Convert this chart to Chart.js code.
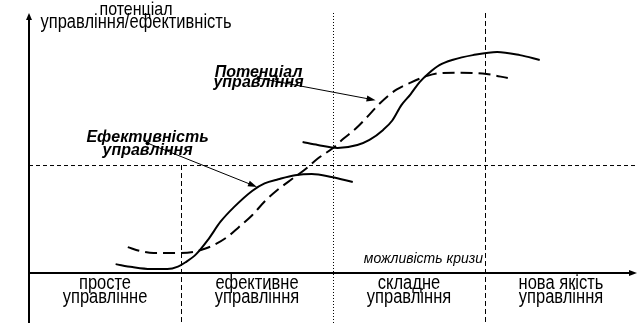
<!DOCTYPE html>
<html lang="uk">
<head>
<meta charset="UTF-8">
<title>Потенціал та ефективність управління</title>
<script src="https://cdn.jsdelivr.net/npm/chart.js"></script>
<style>
  html, body { margin: 0; padding: 0; background: #fff; }
  .wrap { width: 643px; height: 323px; position: relative; }
</style>
</head>
<body>
<div class="wrap"><canvas id="chart"></canvas></div>
<script>
// стадії розвитку управління (підписи під віссю X)
const stages = [['просте', 'управлінне'], ['ефективне', 'управління'], ['складне', 'управління'], ['нова якість', 'управління']];
const stageBounds = [1, 2, 3];
const axisTitle = ['потенціал', 'управління/ефективність'];
const crisisLabel = 'можливість кризи';
const thresholdLevel = 4;

// ефективність управління - перша S-крива
const effect1X = [0.57, 0.68, 0.80, 0.91, 0.98, 1.03, 1.10, 1.18, 1.26, 1.35, 1.47, 1.55, 1.64, 1.75, 1.86, 1.99, 2.13];
const effect1Y = [0.33, 0.22, 0.15, 0.15, 0.24, 0.40, 0.70, 1.25, 1.90, 2.45, 3.05, 3.32, 3.47, 3.62, 3.67, 3.56, 3.37];
// ефективність управління - друга S-крива
const effect2X = [1.80, 1.90, 2.03, 2.16, 2.24, 2.33, 2.39, 2.45, 2.51, 2.57, 2.63, 2.70, 2.79, 2.92, 3.08, 3.23, 3.36];
const effect2Y = [4.85, 4.74, 4.63, 4.74, 4.93, 5.30, 5.65, 6.22, 6.62, 7.07, 7.40, 7.70, 7.90, 8.07, 8.19, 8.07, 7.89];
// потенціал управління
const potentialX = [0.65, 0.73, 0.82, 0.91, 0.99, 1.08, 1.15, 1.21, 1.31, 1.38, 1.47, 1.55, 1.64, 1.73, 1.82, 1.90, 2.00, 2.07, 2.15, 2.22, 2.29, 2.36, 2.42, 2.51, 2.62, 2.70, 2.84, 3.01, 3.15];
const potentialY = [0.96, 0.82, 0.74, 0.74, 0.74, 0.78, 0.89, 1.02, 1.36, 1.70, 2.15, 2.65, 3.10, 3.48, 3.85, 4.24, 4.63, 4.98, 5.35, 5.75, 6.18, 6.55, 6.80, 7.05, 7.30, 7.40, 7.42, 7.37, 7.22];

// підписи кривих: текст, точка підпису, точка на кривій
const curveLabels = [
  { lines: ['Ефективність', 'управління'], from: [0.78, 4.81], to: [1.50, 3.19] },
  { lines: ['Потенціал', 'управління'], from: [1.51, 7.22], to: [2.28, 6.40] }
];

const toPoints = (xs, ys) => xs.map((x, i) => ({ x: x, y: ys[i] }));

const FONT = '"Liberation Sans", Arial, sans-serif';

function drawText(ctx, text, x, y, font, align, sy) {
  ctx.save();
  ctx.translate(x, y);
  ctx.scale(1, sy || 1);
  ctx.font = font;
  ctx.textAlign = align || 'center';
  ctx.textBaseline = 'alphabetic';
  ctx.fillStyle = '#000';
  ctx.fillText(text, 0, 0);
  ctx.restore();
}

function drawArrow(ctx, x1, y1, x2, y2, len, half) {
  const a = Math.atan2(y2 - y1, x2 - x1);
  ctx.beginPath();
  ctx.moveTo(x1, y1);
  ctx.lineTo(x2 - Math.cos(a) * len * 0.6, y2 - Math.sin(a) * len * 0.6);
  ctx.stroke();
  ctx.beginPath();
  ctx.moveTo(x2, y2);
  ctx.lineTo(x2 - Math.cos(a) * len + Math.sin(a) * half, y2 - Math.sin(a) * len - Math.cos(a) * half);
  ctx.lineTo(x2 - Math.cos(a) * len - Math.sin(a) * half, y2 - Math.sin(a) * len + Math.cos(a) * half);
  ctx.closePath();
  ctx.fill();
}

const schemePlugin = {
  id: 'scheme',
  beforeDatasetsDraw(chart) {
    const ctx = chart.ctx;
    const xs = chart.scales.x, ys = chart.scales.y;
    const x0 = xs.getPixelForValue(0), xEnd = xs.getPixelForValue(4);
    const y0 = ys.getPixelForValue(0), yTop = ys.getPixelForValue(9.63);
    const yBottom = chart.height;
    ctx.save();
    ctx.strokeStyle = '#000';
    ctx.lineWidth = 1;
    // горизонтальна пунктирна лінія
    const yT = ys.getPixelForValue(thresholdLevel);
    ctx.setLineDash([4, 3]);
    ctx.beginPath();
    ctx.moveTo(x0, yT + 0.5);
    ctx.lineTo(xEnd, yT + 0.5);
    ctx.stroke();
    // межі стадій
    stageBounds.forEach((b, i) => {
      const px = Math.round(xs.getPixelForValue(b)) + 0.5;
      ctx.setLineDash(i === 1 ? [1, 2] : [5, 3]);
      ctx.beginPath();
      ctx.moveTo(px, i === 0 ? yT : yTop);
      ctx.lineTo(px, yBottom);
      ctx.stroke();
    });
    ctx.setLineDash([]);
    // осі
    ctx.lineWidth = 2;
    ctx.fillStyle = '#000';
    drawArrow(ctx, x0, yBottom, x0, yTop, 7, 3);
    drawArrow(ctx, x0, y0, xEnd, y0, 8, 3);
    ctx.restore();
  },
  afterDatasetsDraw(chart) {
    const ctx = chart.ctx;
    const xs = chart.scales.x, ys = chart.scales.y;
    const y0 = ys.getPixelForValue(0);
    ctx.save();
    // назва осі Y
    drawText(ctx, axisTitle[0], 136, 15, '16px ' + FONT, 'center', 1.2);
    drawText(ctx, axisTitle[1], 136, 28, '16.5px ' + FONT, 'center', 1.2);
    // стадії
    stages.forEach((s, i) => {
      const cx = xs.getPixelForValue(i + 0.5);
      drawText(ctx, s[0], cx, y0 + 16, '16.5px ' + FONT, 'center', 1.2);
      drawText(ctx, s[1], cx, y0 + 30, '16.5px ' + FONT, 'center', 1.2);
    });
    drawText(ctx, crisisLabel, xs.getPixelForValue(3) - 2, y0 - 10, 'italic 14px ' + FONT, 'right', 1.1);
    // підписи кривих зі стрілками
    ctx.strokeStyle = '#000';
    ctx.fillStyle = '#000';
    ctx.lineWidth = 1;
    curveLabels.forEach((l, i) => {
      const fx = xs.getPixelForValue(l.from[0]), fy = ys.getPixelForValue(l.from[1]);
      const tx = xs.getPixelForValue(l.to[0]), ty = ys.getPixelForValue(l.to[1]);
      const gap = i === 0 ? 13 : 10;
      drawText(ctx, l.lines[0], fx, fy - 1, 'italic bold 16px ' + FONT, 'center', 1);
      drawText(ctx, l.lines[1], fx, fy + gap - 1, 'italic bold 16px ' + FONT, 'center', 1);
      ctx.beginPath();
      ctx.arc(fx, fy, 2, 0, Math.PI * 2);
      ctx.fill();
      drawArrow(ctx, fx, fy, tx, ty, 9, 3);
    });
    ctx.restore();
  }
};

const curveStyle = { borderColor: '#000', borderWidth: 2, pointRadius: 0, fill: false, cubicInterpolationMode: 'monotone' };

new Chart(document.getElementById('chart'), {
  type: 'line',
  data: {
    datasets: [
      Object.assign({ label: 'Ефективність управління', data: toPoints(effect1X, effect1Y) }, curveStyle),
      Object.assign({ label: 'Ефективність управління (2)', data: toPoints(effect2X, effect2Y) }, curveStyle),
      Object.assign({ label: 'Потенціал управління', data: toPoints(potentialX, potentialY), borderDash: [12, 6] }, curveStyle)
    ]
  },
  options: {
    responsive: true,
    maintainAspectRatio: false,
    animation: false,
    layout: { padding: { left: 29, right: 6, top: 3, bottom: 0 } },
    plugins: { legend: { display: false }, tooltip: { enabled: false } },
    scales: {
      x: { type: 'linear', min: 0, max: 4, display: false },
      y: { type: 'linear', min: -1.85, max: 10, display: false }
    }
  },
  plugins: [schemePlugin]
});
</script>
</body>
</html>
